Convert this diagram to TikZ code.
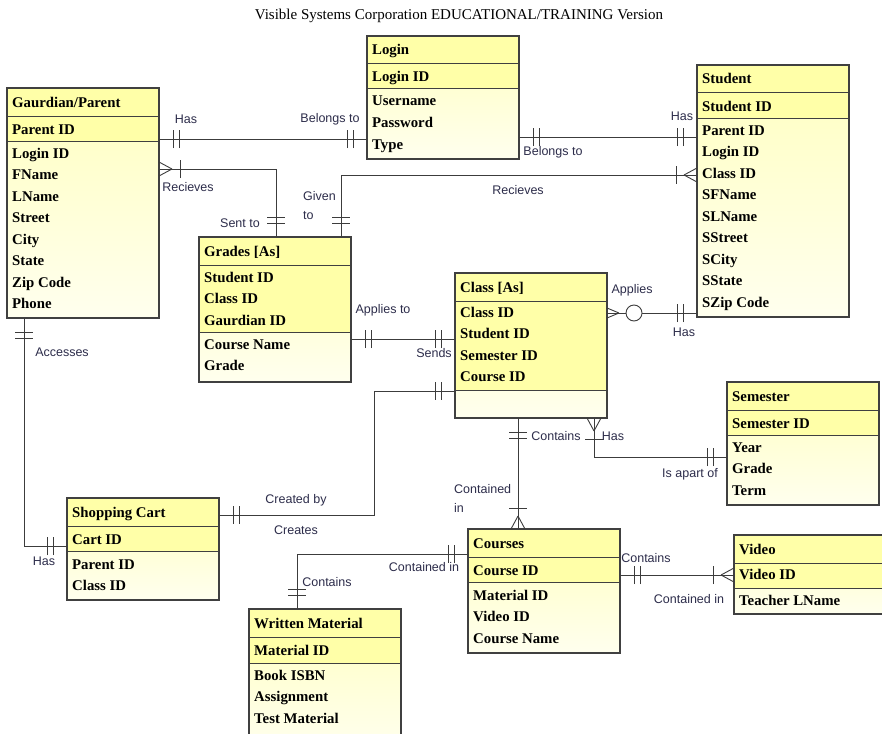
\documentclass[tikz,border=0pt]{standalone}
\usepackage{fontspec}
\setmainfont{Liberation Serif}
\newfontfamily\lsans{Liberation Sans}
\usetikzlibrary{decorations.markings}
\definecolor{linec}{RGB}{60,60,60}
\definecolor{boxc}{RGB}{64,64,64}
\definecolor{hdrc}{RGB}{255,255,168}
\definecolor{bodytop}{RGB}{255,255,192}
\definecolor{bodybot}{RGB}{255,255,238}
\definecolor{labelc}{RGB}{45,45,75}

\newcommand\erent[6]{% name, x, y, height, pk-sep offset, title
  \node[entity, minimum height=#4pt] (#1) at (#2,#3) {};
  \fill[hdrc] (#1.north west) rectangle ([yshift=-#5pt]#1.north east);
  \draw[sepline] ([yshift=-28pt]#1.north west) -- ([yshift=-28pt]#1.north east);
  \draw[sepline] ([yshift=-#5pt]#1.north west) -- ([yshift=-#5pt]#1.north east);
  \draw[boxline] (#1.north west) rectangle (#1.south east);
  \node[enttext] (#1-t) at ([xshift=5pt,yshift=-19pt]#1.north west) {#6};
}
\newcommand\erfields[4]{% prefix, x, first centre y, list
  \foreach \t [count=\i] in {#4} {
    \pgfmathsetmacro\yy{#3+5+(\i-1)*21.5}
    \node[enttext] (#1-\i) at (#2+5,\yy) {\t};
  }
}

\begin{document}
\begin{tikzpicture}[x=1pt,y=-1pt,
  entity/.style={anchor=north west, minimum width=152pt, inner sep=0pt, outer sep=0pt,
    top color=bodytop, bottom color=bodybot, draw=none},
  sepline/.style={draw=boxc, line width=1pt},
  boxline/.style={draw=boxc, line width=1.3pt},
  enttext/.style={anchor=base west, inner sep=0pt, font=\bfseries\fontsize{14.8}{16}\selectfont},
  lbl/.style={inner sep=0pt, text=labelc, font=\lsans\fontsize{12.5}{19}\selectfont},
  rel/.style={draw=linec, line width=0.9pt},
  one at start/.style={postaction={decorate,decoration={markings,
    mark=at position 14pt with {\draw[rel] (0pt,-9pt)--(0pt,9pt);},
    mark=at position 20pt with {\draw[rel] (0pt,-9pt)--(0pt,9pt);}}}},
  one at end/.style={postaction={decorate,decoration={markings,
    mark=at position -20pt with {\draw[rel] (0pt,-9pt)--(0pt,9pt);},
    mark=at position -14pt with {\draw[rel] (0pt,-9pt)--(0pt,9pt);}}}},
  many at start/.style={postaction={decorate,decoration={markings,
    mark=at position 13pt with {\draw[rel] (0pt,0pt)--(-13pt,7pt) (0pt,0pt)--(-13pt,-7pt);
      \draw[rel] (8pt,-9pt)--(8pt,9pt);}}}},
  many at end/.style={postaction={decorate,decoration={markings,
    mark=at position -13pt with {\draw[rel] (0pt,0pt)--(13pt,7pt) (0pt,0pt)--(13pt,-7pt);
      \draw[rel] (-8pt,-9pt)--(-8pt,9pt);}}}},
  zero many at start/.style={postaction={decorate,decoration={markings,
    mark=at position 12pt with {\draw[rel] (0pt,0pt)--(-12pt,5pt) (0pt,0pt)--(-12pt,-5pt);},
    mark=at position 27pt with {\draw[rel, fill=white] (0pt,0pt) circle[radius=8pt];}}}}
]
\useasboundingbox (0,0) rectangle (882,733);
\fill[white] (0,0) rectangle (882,733);
\clip (0,0) rectangle (882,733);

\node[font=\fontsize{15}{17}\selectfont] (title) at (459,16) {Visible Systems Corporation EDUCATIONAL/TRAINING Version};

% entities
\erent{gp}{7}{88}{230}{53}{Gaurdian/Parent}
\erfields{gp-k}{7}{129}{Parent ID}
\erfields{gp-a}{7}{153}{Login ID,FName,LName,Street,City,State,Zip Code,Phone}

\erent{login}{367}{36}{123}{53}{Login}
\erfields{login-k}{367}{77}{Login ID}
\erfields{login-a}{367}{101}{Username,Password,Type}

\erent{student}{697}{65}{252}{53}{Student}
\erfields{student-k}{697}{106}{Student ID}
\erfields{student-a}{697}{130}{Parent ID,Login ID,Class ID,SFName,SLName,SStreet,SCity,SState,SZip Code}

\erent{grades}{199}{237}{145}{95}{Grades [As]}
\erfields{grades-k}{199}{277}{Student ID,Class ID,Gaurdian ID}
\erfields{grades-a}{199}{344}{Course Name,Grade}

\erent{class}{455}{273}{145}{117}{Class [As]}
\erfields{class-k}{455}{312}{Class ID,Student ID,Semester ID,Course ID}

\erent{semester}{727}{382}{123}{53}{Semester}
\erfields{semester-k}{727}{423}{Semester ID}
\erfields{semester-a}{727}{447}{Year,Grade,Term}

\erent{cart}{67}{498}{102}{53}{Shopping Cart}
\erfields{cart-k}{67}{539}{Cart ID}
\erfields{cart-a}{67}{564}{Parent ID,Class ID}

\erent{courses}{468}{529}{124}{53}{Courses}
\erfields{courses-k}{468}{570}{Course ID}
\erfields{courses-a}{468}{595}{Material ID,Video ID,Course Name}

\erent{written}{249}{609}{140}{54}{Written Material}
\erfields{written-k}{249}{650}{Material ID}
\erfields{written-a}{249}{675}{Book ISBN,Assignment,Test Material}

\erent{video}{734}{535}{79}{53}{Video}
\erfields{video-k}{734}{574}{Video ID}
\erfields{video-a}{734}{600}{Teacher LName}

% connectors
\draw[rel, one at start, one at end] (gp.east |- 0,139) -- (login.west |- 0,139);
\draw[rel, one at start, one at end] (login.east |- 0,137) -- (student.west |- 0,137);
\draw[rel, many at start, one at end] (student.west |- 0,175) -- (341,175) -- (grades.north -| 341,0);
\draw[rel, many at start, one at end] (gp.east |- 0,169) -- (276,169) -- (grades.north -| 276,0);
\draw[rel, one at start, one at end] (gp.south -| 24,0) -- (24,546) -- (cart.west |- 0,546);
\draw[rel, one at start, one at end] (grades.east |- 0,339) -- (class.west |- 0,339);
\draw[rel, one at start, one at end] (class.west |- 0,391) -- (374,391) -- (374,515) -- (cart.east |- 0,515);
\draw[rel, zero many at start, one at end] (class.east |- 0,313) -- (student.west |- 0,313);
\draw[rel, many at start, one at end] (class.south -| 594,0) -- (594,457) -- (semester.west |- 0,457);
\draw[rel, one at start, many at end] (class.south -| 518,0) -- (courses.north -| 518,0);
\draw[rel, one at start, one at end] (courses.west |- 0,554) -- (297,554) -- (written.north -| 297,0);
\draw[rel, one at start, many at end] (courses.east |- 0,575) -- (video.west |- 0,575);

% labels
\node[lbl] (l-has1) at (186,119) {Has};
\node[lbl] (l-bel1) at (330,119) {Belongs to};
\node[lbl] (l-bel2) at (553,152) {Belongs to};
\node[lbl] (l-has2) at (682,116) {Has};
\node[lbl] (l-rec1) at (518,190) {Recieves};
\node[lbl, align=left, anchor=west] (l-given) at (303,206) {Given\\to};
\node[lbl] (l-rec2) at (188,187) {Recieves};
\node[lbl] (l-sent) at (240,223) {Sent to};
\node[lbl] (l-acc) at (62,352) {Accesses};
\node[lbl] (l-has3) at (44,561) {Has};
\node[lbl] (l-app1) at (383,310) {Applies to};
\node[lbl] (l-sends) at (434,353) {Sends};
\node[lbl] (l-cb) at (296,500) {Created by};
\node[lbl] (l-cr) at (296,530) {Creates};
\node[lbl] (l-app2) at (632,290) {Applies};
\node[lbl] (l-has4) at (684,332) {Has};
\node[lbl] (l-con1) at (556,436) {Contains};
\node[lbl] (l-has5) at (613,436) {Has};
\node[lbl] (l-iap) at (690,474) {Is apart of};
\node[lbl, align=left, anchor=west] (l-cin1) at (454,498) {Contained\\in};
\node[lbl] (l-cin2) at (424,567) {Contained in};
\node[lbl] (l-con2) at (327,582) {Contains};
\node[lbl] (l-con3) at (646,558) {Contains};
\node[lbl] (l-cin3) at (689,599) {Contained in};
\end{tikzpicture}
\end{document}
